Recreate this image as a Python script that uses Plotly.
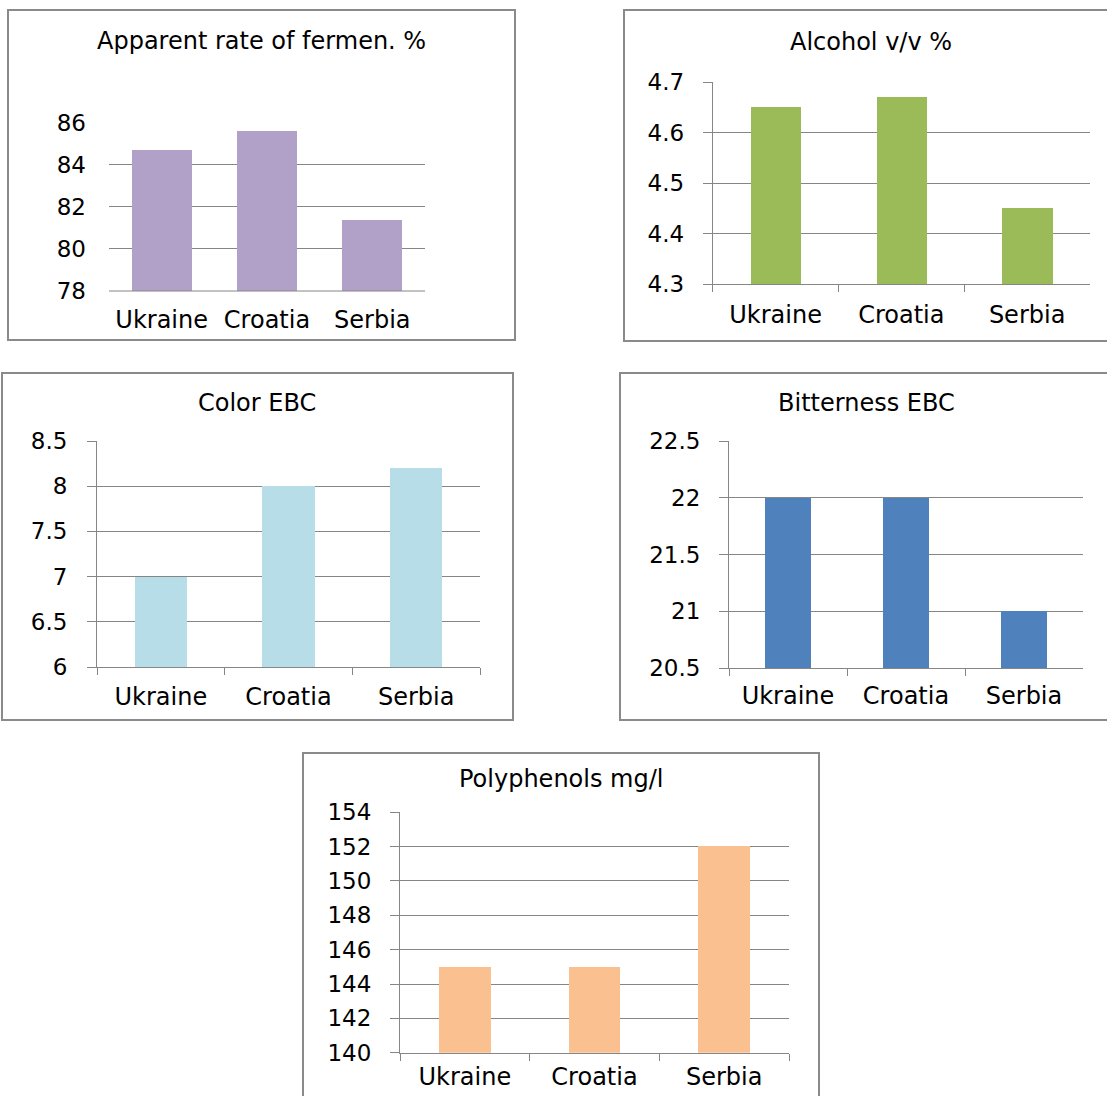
import plotly.graph_objects as go

# Beer quality parameters by country of origin
countries = ["Ukraine", "Croatia", "Serbia"]

fermentation = [84.7, 85.6, 81.4]      # Apparent rate of fermentation, %
alcohol = [4.65, 4.67, 4.45]           # Alcohol v/v %
color_ebc = [7.0, 8.0, 8.2]            # Color EBC
bitterness = [22.0, 22.0, 21.0]        # Bitterness EBC
polyphenols = [145, 145, 152]          # Polyphenols mg/l

W, H = 1107, 1096
FONT = "DejaVu Sans"
GRID = "#868686"
BORDER = "#8a8a8a"


def px(x):
    return x / W


def py(y):
    return 1 - y / H


# panel layout in pixels: frame box, plot area, title position, axis settings
panels = [
    dict(title="Apparent rate of fermen. %", values=fermentation, color="#B1A0C7",
         box=(8, 10, 515, 340), plot=(109, 122.5, 425, 291), title_xy=(261, 41),
         yrange=[78, 86], dtick=2, axisline=False, width=0.57, xoff=12, yoff=22),
    dict(title="Alcohol v/v %", values=alcohol, color="#9BBB59",
         box=(624, 10, 1112, 341), plot=(712.7, 82.3, 1090, 284), title_xy=(871, 42),
         yrange=[4.3, 4.7], dtick=0.1, axisline=True, width=0.40, xoff=9, yoff=14),
    dict(title="Color EBC", values=color_ebc, color="#B7DEE8",
         box=(2, 373, 513, 720), plot=(97, 441, 480, 667), title_xy=(257, 403),
         yrange=[6, 8.5], dtick=0.5, axisline=True, width=0.41, xoff=8, yoff=15),
    dict(title="Bitterness EBC", values=bitterness, color="#4F81BD",
         box=(620, 373, 1112, 720), plot=(729, 441, 1083, 668), title_xy=(866, 403),
         yrange=[20.5, 22.5], dtick=0.5, axisline=True, width=0.39, xoff=6, yoff=14),
    dict(title="Polyphenols mg/l", values=polyphenols, color="#FAC090",
         box=(303, 753, 819, 1100), plot=(400, 812.3, 789, 1052.7), title_xy=(561, 779),
         yrange=[140, 154], dtick=2, axisline=True, width=0.40, xoff=2, yoff=14),
]

fig = go.Figure()
shapes = []
annotations = []

for i, p in enumerate(panels, start=1):
    xa = "x" if i == 1 else f"x{i}"
    ya = "y" if i == 1 else f"y{i}"
    fig.add_trace(go.Bar(
        x=countries, y=p["values"], xaxis=xa, yaxis=ya,
        marker=dict(color=p["color"], line=dict(width=0)),
        width=p["width"], showlegend=False, hoverinfo="x+y",
    ))

    x0, y0, x1, y1 = p["plot"]
    has_line = p["axisline"]
    xkey = "xaxis" if i == 1 else f"xaxis{i}"
    ykey = "yaxis" if i == 1 else f"yaxis{i}"

    fig.layout[xkey] = dict(
        domain=[px(x0), px(x1)], anchor=ya, type="category",
        showgrid=False, zeroline=False, automargin=False,
        showline=has_line, linecolor=GRID, linewidth=1,
        ticks="outside" if has_line else "", ticklen=7, tickcolor=GRID,
        tickson="boundaries",
        tickfont=dict(family=FONT, size=24, color="black"),
        ticklabelstandoff=p["xoff"],
        fixedrange=True,
    )
    fig.layout[ykey] = dict(
        domain=[py(y1), py(y0)], anchor=xa,
        range=p["yrange"], dtick=p["dtick"], tick0=p["yrange"][0],
        showgrid=True, gridcolor=GRID, gridwidth=1, zeroline=False, automargin=False,
        showline=has_line, linecolor=GRID, linewidth=1,
        ticks="outside" if has_line else "", ticklen=9, tickcolor=GRID,
        tickfont=dict(family=FONT, size=23, color="black"),
        ticklabelstandoff=p["yoff"],
        fixedrange=True,
    )

    # horizontal line at the bottom of the plot area for the frameless panel
    if not has_line:
        shapes.append(dict(type="line", xref="paper", yref="paper",
                           x0=px(x0), x1=px(x1), y0=py(y1), y1=py(y1),
                           line=dict(color=GRID, width=1)))

    bx0, by0, bx1, by1 = p["box"]
    shapes.append(dict(type="rect", xref="paper", yref="paper",
                       x0=px(bx0), x1=px(bx1), y0=py(by1), y1=py(by0),
                       line=dict(color=BORDER, width=2), fillcolor="rgba(0,0,0,0)"))

    tx, ty = p["title_xy"]
    annotations.append(dict(text=p["title"], xref="paper", yref="paper",
                            x=px(tx), y=py(ty), xanchor="center", yanchor="middle",
                            showarrow=False,
                            font=dict(family=FONT, size=24, color="black")))

fig.update_layout(
    width=W, height=H,
    margin=dict(l=0, r=0, t=0, b=0, pad=0, autoexpand=False),
    paper_bgcolor="white", plot_bgcolor="white",
    bargap=0, shapes=shapes, annotations=annotations,
    font=dict(family=FONT, color="black"),
)

fig.write_html("out.html", config={"displayModeBar": False})
